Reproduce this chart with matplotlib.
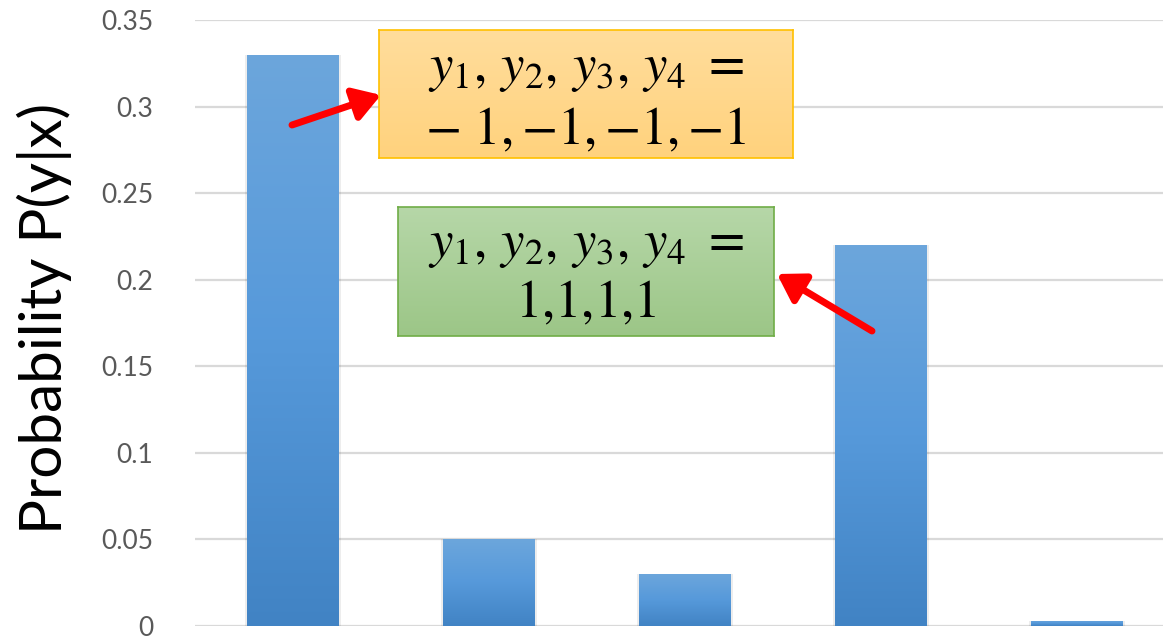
import numpy as np
import matplotlib
matplotlib.use("Agg")
import matplotlib.pyplot as plt
from matplotlib.colors import LinearSegmentedColormap
from matplotlib.patches import FancyArrowPatch

# Data
categories = ["a", "b", "c", "d", "e"]
probabilities = [0.33, 0.05, 0.03, 0.22, 0.003]
y_ticks = [0, 0.05, 0.1, 0.15, 0.2, 0.25, 0.3, 0.35]
y_tick_labels = ["0", "0.05", "0.1", "0.15", "0.2", "0.25", "0.3", "0.35"]
box_top_text = [r"$y_1,\, y_2,\, y_3,\, y_4\ =$", r"$-\ 1,{-}1,{-}1,{-}1$"]
box_bottom_text = [r"$y_1,\, y_2,\, y_3,\, y_4\ =$", r"$1{,}1{,}1{,}1$"]

plt.rcParams["font.family"] = ["Lato", "DejaVu Sans"]
plt.rcParams["mathtext.fontset"] = "stix"

W, H = 1163, 639
fig = plt.figure(figsize=(W / 100, H / 100), dpi=100)
fig.patch.set_facecolor("white")

left_px, right_px, bottom_px, top_px = 195, 1163, 13, 619
ax = fig.add_axes([left_px / W, bottom_px / H, (right_px - left_px) / W,
                   (top_px - bottom_px) / H])
xlim = (-0.5, -0.5 + (right_px - left_px) / 196)

for t in y_ticks:
    ax.axhline(t, color="#D9D9D9", lw=1.6, zorder=0)

bar_cmap = LinearSegmentedColormap.from_list(
    "barfill", ["#4183C4", "#5699DA", "#6CA6DC"])
bar_w = 0.465
x = np.arange(len(categories))
bars = ax.bar(x, probabilities, width=bar_w, color="none", zorder=2)
grad = np.linspace(0, 1, 256).reshape(-1, 1)
for b, xi, p in zip(bars, x, probabilities):
    # faint side shadow
    ax.add_patch(plt.Rectangle((xi - bar_w / 2 - 0.012, 0), bar_w + 0.024, p,
                               color="black", alpha=0.07, lw=0, zorder=1))
    im = ax.imshow(grad, cmap=bar_cmap, origin="lower", aspect="auto",
                   extent=(xi - bar_w / 2, xi + bar_w / 2, 0, p), zorder=2)
    im.set_clip_path(b)
ax.set_xlim(*xlim)
ax.set_ylim(0, 0.35)

ax.set_xticks([])
ax.set_yticks(y_ticks)
ax.set_yticklabels(y_tick_labels, color="#595959", fontsize=19)
ax.tick_params(axis="y", length=0, pad=30)
for s in ax.spines.values():
    s.set_visible(False)
fig.text(44 / W, 1 - 318 / H, "Probability P(y|x)", rotation=90, fontsize=42,
         ha="center", va="center", color="black")


def label_box(x0, y0, x1, y1, lines, ys, c_top, c_bot, edge):
    bax = fig.add_axes([x0 / W, 1 - y1 / H, (x1 - x0) / W, (y1 - y0) / H])
    cm = LinearSegmentedColormap.from_list("boxfill", [c_bot, c_top])
    bax.imshow(grad, cmap=cm, origin="lower", aspect="auto", extent=(0, 1, 0, 1))
    bax.set_xlim(0, 1)
    bax.set_ylim(0, 1)
    bax.set_xticks([])
    bax.set_yticks([])
    for s in bax.spines.values():
        s.set_color(edge)
        s.set_linewidth(1.2)
    for line, yy in zip(lines, ys):
        bax.text(0.5, yy, line, ha="center", va="center", fontsize=38)
    return bax


label_box(379, 30, 793, 158, box_top_text, (0.68, 0.22),
          "#FFDD9C", "#FFD27D", "#FFC000")
label_box(398, 207, 774, 336, box_bottom_text, (0.69, 0.26),
          "#B6D7A8", "#9CC687", "#70AD47")

arrow_kw = dict(arrowstyle="-|>,head_length=0.8,head_width=0.5", color="#FF0000",
                lw=5, shrinkA=0, shrinkB=0)
fig.add_artist(FancyArrowPatch(
    (292, H - 125), (381, H - 95), transform=None, mutation_scale=20, **arrow_kw))
fig.add_artist(FancyArrowPatch(
    (872, H - 331), (777, H - 274), transform=None, mutation_scale=20, **arrow_kw))

fig.savefig("out.png", dpi=100)
